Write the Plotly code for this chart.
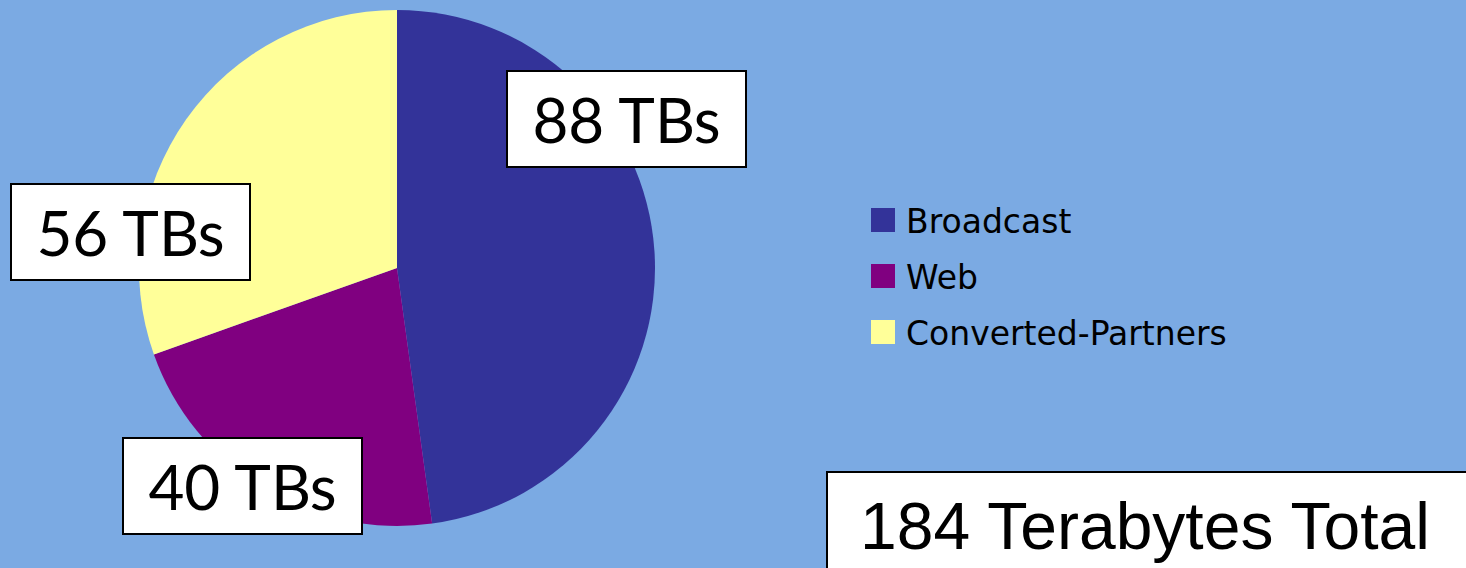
import plotly.graph_objects as go

categories = ["Broadcast", "Web", "Converted-Partners"]
values_tb = [88, 40, 56]
colors = ["#333399", "#800080", "#FFFF99"]

W, H = 1466, 568
BG = "#7BAAE3"

def px(x):
    return x / W

def py(y):
    return 1 - y / H

fig = go.Figure()

# Pie: centre (397,268), radius 258 px
cx, cy, r = 397, 268, 258
fig.add_trace(go.Pie(
    labels=categories,
    values=values_tb,
    marker=dict(colors=colors, line=dict(width=0)),
    sort=False,
    direction="clockwise",
    rotation=0,
    textinfo="none",
    hoverinfo="label+value",
    showlegend=False,
    domain=dict(x=[px(cx - r), px(cx + r)], y=[py(cy + r), py(cy - r)]),
))

annotations = []
shapes = []

# Data label boxes (centre positions in pixels)
label_centres = [(626.5, 119), (242, 486), (130.5, 232)]
for v, (lx, ly) in zip(values_tb, label_centres):
    annotations.append(dict(
        x=px(lx), y=py(ly), xref="paper", yref="paper",
        xanchor="center", yanchor="middle",
        text=f"{v} TBs", showarrow=False,
        font=dict(family="Lato, Open Sans, DejaVu Sans", size=62, color="black"),
        bgcolor="white", bordercolor="black", borderwidth=2, borderpad=0,
        width=237, height=94,
    ))

# Custom legend
leg_y = [220, 276, 332]
for name, col, ly in zip(categories, colors, leg_y):
    shapes.append(dict(
        type="rect", xref="paper", yref="paper",
        x0=px(871), x1=px(895), y0=py(ly + 12), y1=py(ly - 12),
        fillcolor=col, line=dict(width=0),
    ))
    annotations.append(dict(
        x=px(904), y=py(ly + 1), xref="paper", yref="paper",
        xanchor="left", yanchor="middle",
        text=name, showarrow=False,
        font=dict(family="DejaVu Sans", size=33, color="black"),
    ))

# Total box
shapes.append(dict(
    type="rect", xref="paper", yref="paper",
    x0=px(827), x1=px(1480), y0=py(580), y1=py(472),
    fillcolor="white", line=dict(color="black", width=2),
))
annotations.append(dict(
    x=px(858), y=py(526), xref="paper", yref="paper",
    xanchor="left", yanchor="middle",
    text=f"{sum(values_tb)} Terabytes Total", showarrow=False,
    font=dict(family="Liberation Sans Narrow, Arial Narrow, Liberation Sans", size=66, color="black"),
))

fig.update_layout(
    width=W, height=H,
    margin=dict(l=0, r=0, t=0, b=0),
    paper_bgcolor=BG, plot_bgcolor=BG,
    annotations=annotations, shapes=shapes,
)

fig.write_html("out.html", config={"displayModeBar": False},
               post_script="document.body.style.margin='0';")

with open("out.html", "r", encoding="utf-8") as f:
    html = f.read()
html = html.replace("<head>", "<head><style>html,body{margin:0;padding:0;overflow:hidden;}</style>", 1)
with open("out.html", "w", encoding="utf-8") as f:
    f.write(html)
